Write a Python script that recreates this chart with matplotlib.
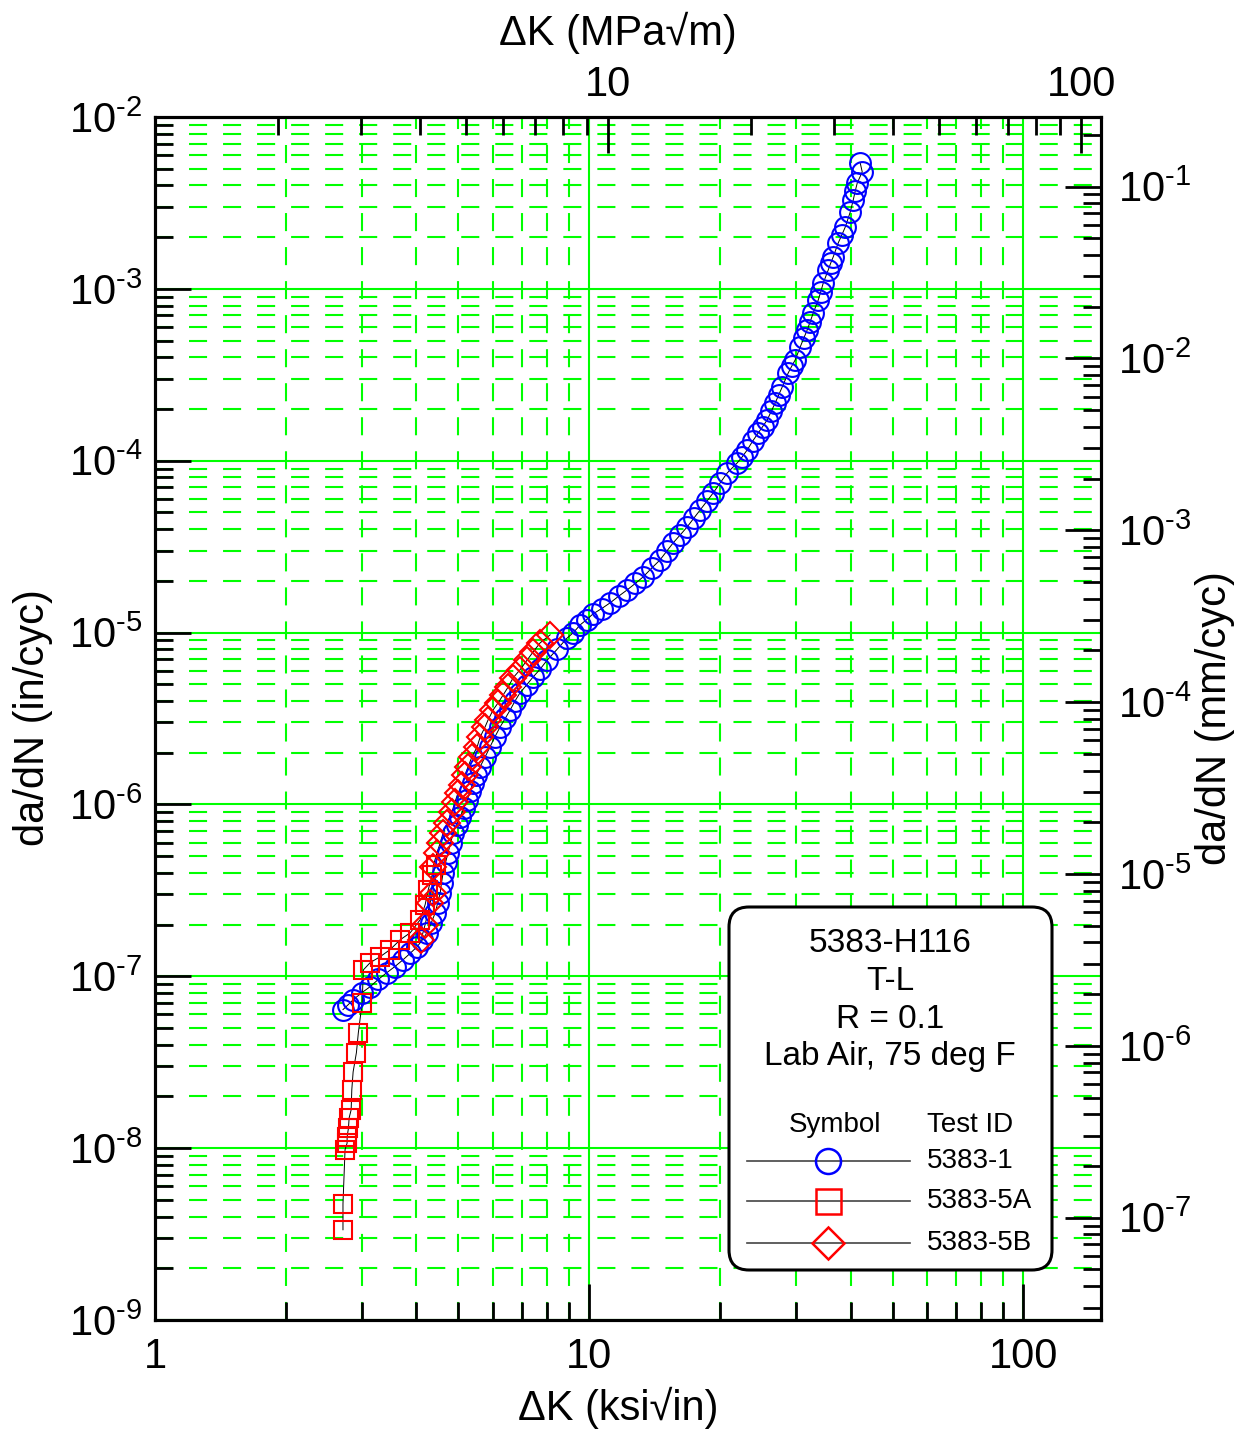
import numpy as np
import matplotlib
matplotlib.use('Agg')
import matplotlib.pyplot as plt
from matplotlib.ticker import LogLocator, NullFormatter, FixedLocator, FixedFormatter, FuncFormatter
from matplotlib.patches import FancyBboxPatch
from matplotlib.lines import Line2D

plt.rcParams['font.family'] = ['Liberation Sans', 'DejaVu Sans']
plt.rcParams['mathtext.fontset'] = 'custom'
plt.rcParams['mathtext.rm'] = 'Liberation Sans'
plt.rcParams['mathtext.it'] = 'Liberation Sans'
plt.rcParams['mathtext.default'] = 'regular'
plt.rcParams['lines.scale_dashes'] = False

# ---------------- data ----------------
dk_5383_1 = [2.71, 2.78, 2.86, 2.99, 3.13, 3.27, 3.42, 3.57, 3.73, 3.87, 4.02, 4.13,
             4.23, 4.33, 4.42, 4.48, 4.54, 4.57, 4.61, 4.67, 4.73, 4.80, 4.86, 4.95,
             5.05, 5.14, 5.24, 5.32, 5.40, 5.50, 5.61, 5.76, 5.91, 6.07, 6.24, 6.41,
             6.58, 6.75, 6.93, 7.18, 7.43, 7.70, 8.00, 8.44, 8.90, 9.20, 9.54, 9.87,
             10.21, 10.69, 11.18, 11.70, 12.23, 12.77, 13.32, 13.93, 14.57, 15.08,
             15.62, 16.21, 16.82, 17.41, 18.03, 18.66, 19.31, 20.05, 20.80, 21.93,
             22.5, 23.13, 23.8, 24.52, 25.1, 25.71, 26.27, 26.83, 27.34, 27.85, 28.74,
             29.28, 29.83, 30.63, 31.2, 31.79, 32.3, 32.82, 33.70, 34.15, 34.61, 35.54,
             36.0, 36.49, 37.47, 38.2, 38.90, 39.94, 40.58, 41.0, 41.45, 42.56, 42.11]
dadn_5383_1 = [6.4e-8, 6.8e-8, 7.3e-8, 8.0e-8, 8.7e-8, 9.6e-8, 1.05e-7, 1.14e-7, 1.25e-7,
               1.36e-7, 1.49e-7, 1.63e-7, 1.79e-7, 2.05e-7, 2.34e-7, 2.68e-7, 3.06e-7,
               3.5e-7, 4.0e-7, 4.6e-7, 5.22e-7, 6.0e-7, 6.84e-7, 7.6e-7, 8.47e-7, 9.5e-7,
               1.064e-6, 1.19e-6, 1.34e-6, 1.49e-6, 1.66e-6, 1.89e-6, 2.16e-6, 2.48e-6,
               2.83e-6, 3.17e-6, 3.55e-6, 4.0e-6, 4.46e-6, 4.96e-6, 5.52e-6, 6.1e-6, 6.9e-6,
               8.0e-6, 9.3e-6, 1.0e-5, 1.11e-5, 1.19e-5, 1.285e-5, 1.38e-5, 1.49e-5,
               1.63e-5, 1.77e-5, 1.93e-5, 2.11e-5, 2.37e-5, 2.65e-5, 2.97e-5, 3.33e-5,
               3.70e-5, 4.12e-5, 4.62e-5, 5.18e-5, 5.80e-5, 6.50e-5, 7.45e-5, 8.49e-5,
               9.71e-5, 1.05e-4, 1.156e-4, 1.30e-4, 1.452e-4, 1.58e-4, 1.726e-4, 1.94e-4,
               2.17e-4, 2.42e-4, 2.69e-4, 3.24e-4, 3.55e-4, 3.86e-4, 4.59e-4, 5.15e-4,
               5.77e-4, 6.45e-4, 7.24e-4, 8.61e-4, 9.6e-4, 1.081e-3, 1.288e-3, 1.41e-3,
               1.534e-3, 1.85e-3, 2.06e-3, 2.29e-3, 2.80e-3, 3.29e-3, 3.7e-3, 4.13e-3,
               4.79e-3, 5.40e-3]

dk_5383_5a = [2.71, 2.71, 2.74, 2.77, 2.77, 2.79, 2.80, 2.83, 2.84, 2.86, 2.91, 2.94,
              3.00, 3.02, 3.13, 3.30, 3.48, 3.67, 3.87, 4.08, 4.19, 4.26, 4.35, 4.44]
dadn_5383_5a = [3.35e-9, 4.75e-9, 9.8e-9, 1.07e-8, 1.16e-8, 1.31e-8, 1.50e-8, 1.67e-8,
                2.19e-8, 2.78e-8, 3.59e-8, 4.69e-8, 7.01e-8, 1.09e-7, 1.20e-7, 1.30e-7,
                1.43e-7, 1.63e-7, 1.79e-7, 2.13e-7, 2.61e-7, 3.19e-7, 3.89e-7, 4.45e-7]

dk_5383_5b = [4.10, 4.19, 4.30, 4.37, 4.37, 4.46, 4.54, 4.61, 4.71, 4.83, 4.91, 4.99,
              5.10, 5.18, 5.26, 5.37, 5.52, 5.61, 5.76, 5.85, 6.01, 6.17, 6.34, 6.51,
              6.68, 6.93, 7.20, 7.43, 7.71, 8.13]
dadn_5383_5b = [1.63e-7, 2.0e-7, 2.67e-7, 3.06e-7, 4.34e-7, 5.22e-7, 5.98e-7, 6.84e-7,
                7.82e-7, 9.06e-7, 1.035e-6, 1.168e-6, 1.30e-6, 1.486e-6, 1.656e-6, 1.89e-6,
                2.16e-6, 2.47e-6, 2.83e-6, 3.10e-6, 3.55e-6, 3.90e-6, 4.34e-6, 4.83e-6,
                5.45e-6, 6.07e-6, 6.93e-6, 7.72e-6, 8.71e-6, 9.70e-6]

test_ids = ['5383-1', '5383-5A', '5383-5B']
info_lines = ['5383-H116', 'T-L', 'R = 0.1', 'Lab Air, 75 deg F']

# ---------------- figure ----------------
W, H = 1246, 1433
fig = plt.figure(figsize=(W / 100, H / 100), dpi=100)
L, R, T, B = 155, 1101, 117, 1320
ax = fig.add_axes([L / W, 1 - B / H, (R - L) / W, (B - T) / H])
ax.set_xscale('log')
ax.set_yscale('log')
ax.set_xlim(1, 151)
ax.set_ylim(1e-9, 1e-2)

GREEN = '#00ff00'
ax.set_axisbelow(True)
ax.xaxis.set_minor_locator(LogLocator(base=10, subs=np.arange(2, 10)))
ax.yaxis.set_minor_locator(LogLocator(base=10, subs=np.arange(2, 10), numticks=50))
ax.yaxis.set_major_locator(LogLocator(base=10, numticks=50))
ax.grid(which='major', color=GREEN, lw=1.5, ls='-')
ax.grid(which='minor', color=GREEN, lw=1.5, ls=(0, (13, 11.5)))


def pow_label(v, p):
    e = int(round(np.log10(v)))
    s = str(e).replace('-', r'\text{-}')
    return r'$10^{%s}$' % s


ax.set_xticks([1, 10, 100])
ax.xaxis.set_major_formatter(FixedFormatter(['1', '10', '100']))
ax.xaxis.set_minor_formatter(NullFormatter())
ax.yaxis.set_major_formatter(FuncFormatter(pow_label))
ax.yaxis.set_minor_formatter(NullFormatter())
ax.tick_params(which='both', direction='in', top=False, right=False, color='black', width=2)
ax.tick_params(which='major', length=26, labelsize=30)
ax.tick_params(which='minor', length=13)
ax.tick_params(axis='x', which='major', pad=12)
ax.tick_params(axis='y', which='major', pad=9)
for s in ax.spines.values():
    s.set_linewidth(2.2)

# data series
ax.plot(dk_5383_1, dadn_5383_1, color='black', lw=0.7, zorder=3)
ax.plot(dk_5383_1, dadn_5383_1, ls='none', marker='o', ms=15, mfc='none', mec='#0000ff',
        mew=1.5, zorder=4)
ax.plot(dk_5383_5a, dadn_5383_5a, color='black', lw=0.7, zorder=3)
ax.plot(dk_5383_5a, dadn_5383_5a, ls='none', marker='s', ms=13, mfc='none', mec='#ff0000',
        mew=1.5, zorder=4)
ax.plot(dk_5383_5b, dadn_5383_5b, color='black', lw=0.7, zorder=3)
ax.plot(dk_5383_5b, dadn_5383_5b, ls='none', marker='D', ms=13.5, mfc='none', mec='#ff0000',
        mew=1.5, zorder=4)

# top axis (MPa sqrt m)
axt = ax.twiny()
axt.set_xscale('log')
axt.set_xlim(1.1, 110)
axt.set_xticks([10, 100])
axt.xaxis.set_major_formatter(FixedFormatter(['10', '100']))
axt.xaxis.set_minor_locator(LogLocator(base=10, subs=np.arange(2, 10)))
axt.xaxis.set_minor_formatter(NullFormatter())
axt.tick_params(which='both', direction='in', color='black', width=2)
axt.tick_params(which='major', length=26, labelsize=30, pad=9)
axt.tick_params(which='minor', length=13)

# right axis (mm/cyc)
axr = ax.twinx()
axr.set_yscale('log')
axr.set_ylim(25.4e-9, 25.4e-2)
axr.yaxis.set_major_locator(LogLocator(base=10, numticks=50))
axr.yaxis.set_minor_locator(LogLocator(base=10, subs=np.arange(2, 10), numticks=50))
axr.yaxis.set_major_formatter(FuncFormatter(pow_label))
axr.yaxis.set_minor_formatter(NullFormatter())
axr.tick_params(which='both', direction='in', color='black', width=2)
axr.tick_params(which='major', length=26, labelsize=30, pad=12)
axr.tick_params(which='minor', length=13)
for a in (axt, axr):
    for s in a.spines.values():
        s.set_linewidth(2.2)


def fp(x, y):
    return (x / W, 1 - y / H)


fig.text(*fp(618, 33), 'ΔK (MPa√m)', ha='center', va='center', fontsize=30)
fig.text(*fp(618, 1408), 'ΔK (ksi√in)', ha='center', va='center', fontsize=30)
fig.text(*fp(33, 718), 'da/dN (in/cyc)', ha='center', va='center', fontsize=30, rotation=90)
fig.text(*fp(1215, 718), 'da/dN (mm/cyc)', ha='center', va='center', fontsize=30, rotation=90)

# legend box (display pixel coordinates)
bx0, by0, bx1, by1 = 729, 907, 1052, 1270
box = FancyBboxPatch((bx0 + 20, H - by1 + 20), (bx1 - bx0) - 40, (by1 - by0) - 40,
                     boxstyle='round,pad=20', transform=None, facecolor='white',
                     edgecolor='black', lw=2.2, zorder=10)
fig.add_artist(box)
for txt, yy in zip(info_lines, [943, 981, 1019, 1057]):
    fig.text(*fp(890, yy), txt, ha='center', va='center', fontsize=24, zorder=11)
fig.text(*fp(835, 1125), 'Symbol', ha='center', va='center', fontsize=20, zorder=11)
fig.text(*fp(927, 1125), 'Test ID', ha='left', va='center', fontsize=20, zorder=11)
leg_styles = [('o', 18, '#0000ff'), ('s', 18, '#ff0000'), ('D', 16.5, '#ff0000')]
for tid, (mk, ms, col), yy in zip(test_ids, leg_styles, [1161, 1201, 1243]):
    fig.add_artist(Line2D([747, 910], [H - yy, H - yy], transform=None, color='#444444',
                          lw=1.2, zorder=11))
    fig.add_artist(Line2D([828], [H - yy], transform=None, ls='none', marker=mk, ms=ms,
                          mfc='none', mec=col, mew=1.8, zorder=12))
    fig.text(*fp(927, yy), tid, ha='left', va='center', fontsize=20, zorder=11)

fig.savefig('out.png', dpi=100)
